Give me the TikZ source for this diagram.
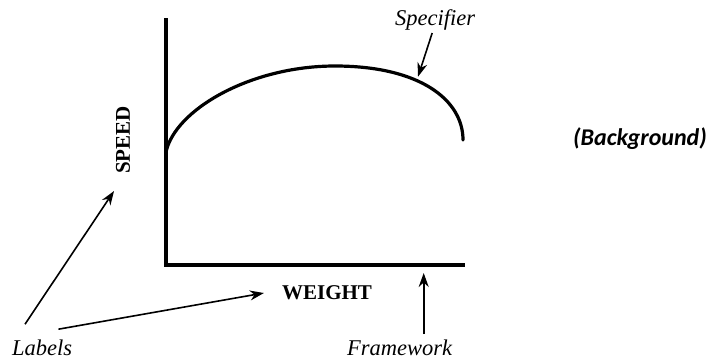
\documentclass[tikz,border=0pt]{standalone}
\usepackage{fontspec}
\setmainfont{Liberation Serif}
\newfontfamily\notefont{Carlito}
\usetikzlibrary{arrows.meta,positioning,calc}

\tikzset{
  axisline/.style={line width=3.4pt, line cap=rect},
  curveline/.style={line width=3.2pt, line cap=round},
  pointer/.style={-{Stealth[length=14pt,width=10pt]}, line width=1.6pt},
  axislabel/.style={font=\fontsize{21}{24}\selectfont\bfseries, inner sep=0pt},
  remark/.style={font=\fontsize{22.5}{26}\selectfont\itshape, inner sep=0pt},
}

\begin{document}
\begin{tikzpicture}[x=1pt, y=-1pt]
\useasboundingbox (0,0) rectangle (708,360);

% Framework (axes)
\coordinate (ytop) at (166,20);
\coordinate (O) at (166,265);
\coordinate (xend) at (463,265);
\draw[axisline] (ytop) -- (O) -- (xend);

% Specifier curve
\draw[curveline] (166,152) .. controls (175,110) and (250,66) .. (335,66)
    .. controls (420,66) and (463,100) .. coordinate[pos=0.4] (spec) (463,140);

% Axis labels
\node[axislabel, rotate=90] (speed) at (123,140) {SPEED};
\node[axislabel] (weight) at (327,293) {WEIGHT};

% Remarks
\node[remark, anchor=base west] (labels) at (12,355) {Labels};
\node[remark, anchor=base west] (framework) at (347,355) {Framework};
\node[remark, anchor=base west] (specifier) at (395,25) {Specifier};
\node[font=\notefont\fontsize{24}{28}\selectfont\bfseries\itshape, inner sep=0pt] (background) at (640,139) {(Background)};

% Pointers
\draw[pointer] ([xshift=13pt,yshift=15pt]labels.north west) -- ([xshift=-9pt,yshift=-17pt]speed.west);
\draw[pointer] ([xshift=-14pt,yshift=10pt]labels.north east) -- ([xshift=-18pt]weight.west);
\draw[pointer] ([xshift=24pt,yshift=5pt]framework.north) -- ([xshift=24pt,yshift=-8pt]framework.north |- O);
\draw[pointer, shorten >=4pt] ([xshift=-3pt,yshift=-3pt]specifier.south) -- (spec);
\end{tikzpicture}
\end{document}
